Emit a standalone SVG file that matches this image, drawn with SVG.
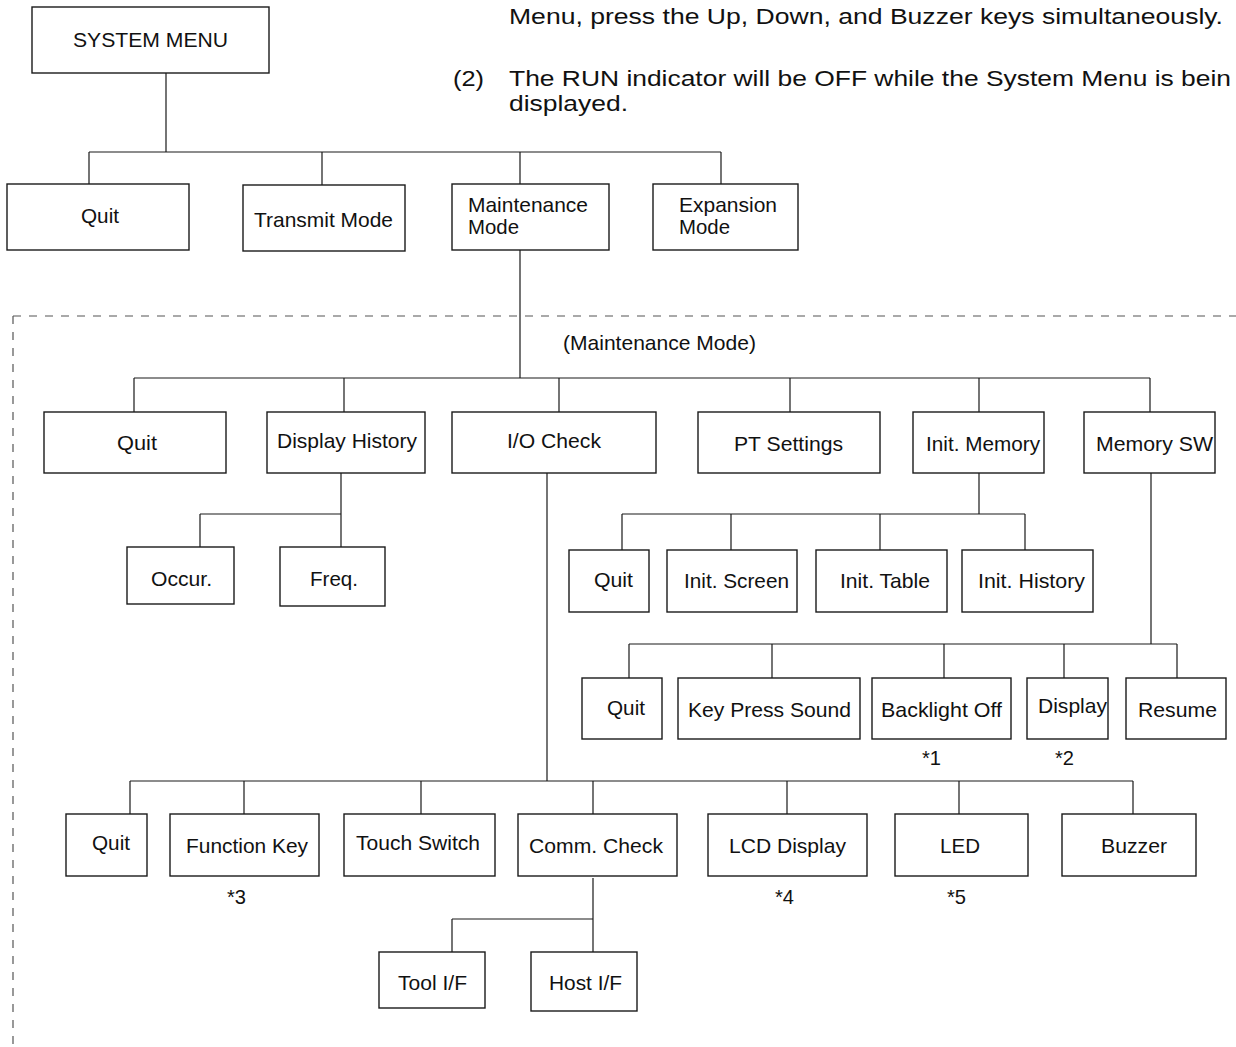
<svg xmlns="http://www.w3.org/2000/svg" width="1236" height="1047" viewBox="0 0 1236 1047">
<style>
.box{fill:#fff;stroke:#1a1a1a;stroke-width:1.4}
.ln{fill:none;stroke:#1a1a1a;stroke-width:1.2}
.t{font-family:"Liberation Sans",Arial,sans-serif;font-size:21px;fill:#111}
.p{font-family:"Liberation Sans",Arial,sans-serif;font-size:22px;fill:#111}
.dash{fill:none;stroke:#555;stroke-width:1.2;stroke-dasharray:8 8}
</style>
<rect width="1236" height="1047" fill="#fff"/>
<g id="notes">
<text class="p" x="509" y="24" textLength="714" lengthAdjust="spacingAndGlyphs">Menu, press the Up, Down, and Buzzer keys simultaneously.</text>
<text class="p" x="453" y="86" textLength="31" lengthAdjust="spacingAndGlyphs">(2)</text>
<text class="p" x="509" y="86" textLength="722" lengthAdjust="spacingAndGlyphs">The RUN indicator will be OFF while the System Menu is bein</text>
<text class="p" x="509" y="111" textLength="119" lengthAdjust="spacingAndGlyphs">displayed.</text>
</g>
<g id="boundary">
<path class="dash" d="M13 316 H1236 M13 316 V1047"/>
<text class="t" x="563" y="350" textLength="193" lengthAdjust="spacingAndGlyphs">(Maintenance Mode)</text>
</g>
<g id="connectors">
<path class="ln" d="M166 73 V152 M89 152 H721 M89 152 V184 M322 152 V185 M520 152 V184 M721 152 V184"/>
<path class="ln" d="M520 250 V378 M134 378 H1150 M134 378 V412 M344 378 V412 M559 378 V412 M790 378 V412 M979 378 V412 M1150 378 V412"/>
<path class="ln" d="M341 473 V514 M200 514 H341 M200 514 V547 M341 514 V547"/>
<path class="ln" d="M979 473 V514 M622 514 H1025 M622 514 V550 M731 514 V550 M880 514 V550 M1025 514 V550"/>
<path class="ln" d="M1151 473 V644 M629 644 H1177 M629 644 V678 M772 644 V678 M944 644 V678 M1064 644 V678 M1177 644 V678"/>
<path class="ln" d="M547 473 V781 M130 781 H1133 M130 781 V814 M244 781 V814 M421 781 V814 M593 781 V814 M787 781 V814 M959 781 V814 M1133 781 V814"/>
<path class="ln" d="M593 878 V952 M452 919 H593 M452 919 V952"/>
</g>
<g id="n-system-menu"><rect class="box" x="32" y="7" width="237" height="66"/><text class="t" x="73" y="47" textLength="155" lengthAdjust="spacingAndGlyphs">SYSTEM MENU</text></g>
<g id="n-quit-top"><rect class="box" x="7" y="184" width="182" height="66"/><text class="t" x="81" y="223" textLength="38" lengthAdjust="spacingAndGlyphs">Quit</text></g>
<g id="n-transmit"><rect class="box" x="243" y="185" width="162" height="66"/><text class="t" x="254" y="227" textLength="139" lengthAdjust="spacingAndGlyphs">Transmit Mode</text></g>
<g id="n-maintenance"><rect class="box" x="452" y="184" width="157" height="66"/><text class="t" x="468" y="212" textLength="120" lengthAdjust="spacingAndGlyphs">Maintenance</text><text class="t" x="468" y="234" textLength="51" lengthAdjust="spacingAndGlyphs">Mode</text></g>
<g id="n-expansion"><rect class="box" x="653" y="184" width="145" height="66"/><text class="t" x="679" y="212" textLength="98" lengthAdjust="spacingAndGlyphs">Expansion</text><text class="t" x="679" y="234" textLength="51" lengthAdjust="spacingAndGlyphs">Mode</text></g>

<g id="n-mm-quit"><rect class="box" x="44" y="412" width="182" height="61"/><text class="t" x="117" y="450" textLength="40" lengthAdjust="spacingAndGlyphs">Quit</text></g>
<g id="n-display-history"><rect class="box" x="267" y="412" width="158" height="61"/><text class="t" x="277" y="448" textLength="140" lengthAdjust="spacingAndGlyphs">Display History</text></g>
<g id="n-io-check"><rect class="box" x="452" y="412" width="204" height="61"/><text class="t" x="507" y="448" textLength="94" lengthAdjust="spacingAndGlyphs">I/O Check</text></g>
<g id="n-pt-settings"><rect class="box" x="698" y="412" width="182" height="61"/><text class="t" x="734" y="451" textLength="109" lengthAdjust="spacingAndGlyphs">PT Settings</text></g>
<g id="n-init-memory"><rect class="box" x="913" y="412" width="131" height="61"/><text class="t" x="926" y="451" textLength="114" lengthAdjust="spacingAndGlyphs">Init. Memory</text></g>
<g id="n-memory-sw"><rect class="box" x="1084" y="412" width="131" height="61"/><text class="t" x="1096" y="451" textLength="117" lengthAdjust="spacingAndGlyphs">Memory SW</text></g>

<g id="n-occur"><rect class="box" x="127" y="547" width="107" height="57"/><text class="t" x="151" y="586" textLength="61" lengthAdjust="spacingAndGlyphs">Occur.</text></g>
<g id="n-freq"><rect class="box" x="280" y="547" width="105" height="59"/><text class="t" x="310" y="586" textLength="48" lengthAdjust="spacingAndGlyphs">Freq.</text></g>

<g id="n-im-quit"><rect class="box" x="569" y="550" width="80" height="62"/><text class="t" x="594" y="587" textLength="39" lengthAdjust="spacingAndGlyphs">Quit</text></g>
<g id="n-init-screen"><rect class="box" x="667" y="550" width="130" height="62"/><text class="t" x="684" y="588" textLength="105" lengthAdjust="spacingAndGlyphs">Init. Screen</text></g>
<g id="n-init-table"><rect class="box" x="816" y="550" width="131" height="62"/><text class="t" x="840" y="588" textLength="90" lengthAdjust="spacingAndGlyphs">Init. Table</text></g>
<g id="n-init-history"><rect class="box" x="962" y="550" width="131" height="62"/><text class="t" x="978" y="588" textLength="107" lengthAdjust="spacingAndGlyphs">Init. History</text></g>

<g id="n-sw-quit"><rect class="box" x="582" y="678" width="80" height="61"/><text class="t" x="607" y="715" textLength="38" lengthAdjust="spacingAndGlyphs">Quit</text></g>
<g id="n-key-press"><rect class="box" x="678" y="678" width="182" height="61"/><text class="t" x="688" y="717" textLength="163" lengthAdjust="spacingAndGlyphs">Key Press Sound</text></g>
<g id="n-backlight"><rect class="box" x="872" y="678" width="139" height="61"/><text class="t" x="881" y="717" textLength="121" lengthAdjust="spacingAndGlyphs">Backlight Off</text><text class="t" x="922" y="765" textLength="19" lengthAdjust="spacingAndGlyphs">*1</text></g>
<g id="n-display"><rect class="box" x="1027" y="678" width="81" height="61"/><text class="t" x="1038" y="713" textLength="69" lengthAdjust="spacingAndGlyphs">Display</text><text class="t" x="1055" y="765" textLength="19" lengthAdjust="spacingAndGlyphs">*2</text></g>
<g id="n-resume"><rect class="box" x="1126" y="678" width="100" height="61"/><text class="t" x="1138" y="717" textLength="79" lengthAdjust="spacingAndGlyphs">Resume</text></g>

<g id="n-io-quit"><rect class="box" x="66" y="814" width="81" height="62"/><text class="t" x="92" y="850" textLength="38" lengthAdjust="spacingAndGlyphs">Quit</text></g>
<g id="n-function-key"><rect class="box" x="170" y="814" width="149" height="62"/><text class="t" x="186" y="853" textLength="122" lengthAdjust="spacingAndGlyphs">Function Key</text><text class="t" x="227" y="904" textLength="19" lengthAdjust="spacingAndGlyphs">*3</text></g>
<g id="n-touch-switch"><rect class="box" x="344" y="814" width="151" height="62"/><text class="t" x="356" y="850" textLength="124" lengthAdjust="spacingAndGlyphs">Touch Switch</text></g>
<g id="n-comm-check"><rect class="box" x="518" y="814" width="159" height="62"/><text class="t" x="529" y="853" textLength="134" lengthAdjust="spacingAndGlyphs">Comm. Check</text></g>
<g id="n-lcd"><rect class="box" x="708" y="814" width="159" height="62"/><text class="t" x="729" y="853" textLength="117" lengthAdjust="spacingAndGlyphs">LCD Display</text><text class="t" x="775" y="904" textLength="19" lengthAdjust="spacingAndGlyphs">*4</text></g>
<g id="n-led"><rect class="box" x="895" y="814" width="133" height="62"/><text class="t" x="940" y="853" textLength="40" lengthAdjust="spacingAndGlyphs">LED</text><text class="t" x="947" y="904" textLength="19" lengthAdjust="spacingAndGlyphs">*5</text></g>
<g id="n-buzzer"><rect class="box" x="1062" y="814" width="134" height="62"/><text class="t" x="1101" y="853" textLength="66" lengthAdjust="spacingAndGlyphs">Buzzer</text></g>

<g id="n-tool-if"><rect class="box" x="379" y="952" width="106" height="56"/><text class="t" x="398" y="990" textLength="69" lengthAdjust="spacingAndGlyphs">Tool I/F</text></g>
<g id="n-host-if"><rect class="box" x="531" y="952" width="106" height="59"/><text class="t" x="549" y="990" textLength="73" lengthAdjust="spacingAndGlyphs">Host I/F</text></g>
</svg>
